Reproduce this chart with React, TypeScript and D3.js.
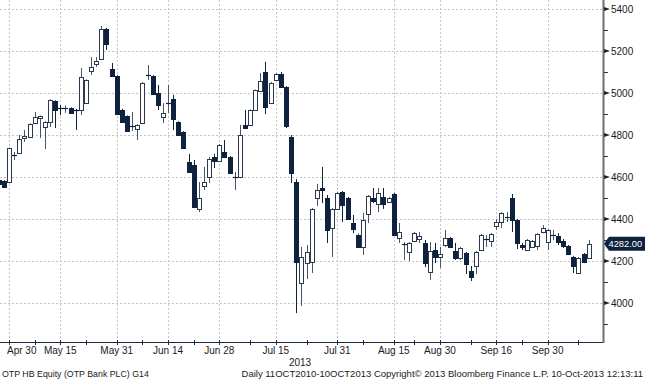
import React from 'react';
import * as d3 from 'd3';

// ---------- data ----------
const firstDay = '2013-04-26';
const lastDay = '2013-10-10';
const holidays = ['2013-05-01', '2013-05-20', '2013-08-19', '2013-08-20'];

const opens = [4585, 4580, 4576, 4705, 4714, 4786, 4790, 4857, 4881, 4838, 4862, 4962, 4928, 4925, 4929, 4920, 4919, 4952, 5105, 5138, 5162, 5305, 5114, 5081, 4919, 4890, 4843, 4829, 4857, 5086, 5081, 5000, 4886, 4950, 4971, 4862, 4814, 4671, 4657, 4448, 4557, 4600, 4695, 4676, 4719, 4695, 4600, 4600, 4848, 4848, 4919, 5010, 5100, 4952, 5062, 5090, 5029, 4790, 4576, 4095, 4190, 4195, 4500, 4548, 4500, 4357, 4448, 4529, 4500, 4381, 4324, 4267, 4424, 4500, 4471, 4505, 4481, 4519, 4310, 4281, 4243, 4295, 4305, 4286, 4148, 4252, 4219, 4276, 4310, 4248, 4214, 4238, 4152, 4176, 4252, 4305, 4295, 4367, 4386, 4410, 4500, 4395, 4276, 4252, 4267, 4271, 4338, 4290, 4324, 4319, 4295, 4271, 4219, 4143, 4233, 4214];
const highs = [4590, 4585, 4740, 4719, 4800, 4824, 4855, 4910, 4893, 4865, 4970, 4965, 4943, 4940, 4932, 4924, 5119, 5065, 5171, 5171, 5319, 5310, 5143, 5085, 4925, 4893, 4910, 4852, 5052, 5133, 5085, 5038, 4952, 5038, 4990, 4865, 4818, 4710, 4681, 4576, 4648, 4695, 4710, 4757, 4776, 4700, 4624, 4848, 4919, 4922, 5017, 5095, 5148, 5052, 5095, 5100, 5033, 4800, 4590, 4267, 4276, 4452, 4567, 4648, 4514, 4452, 4530, 4533, 4505, 4419, 4330, 4429, 4514, 4548, 4548, 4548, 4505, 4524, 4381, 4290, 4290, 4338, 4338, 4300, 4290, 4286, 4267, 4348, 4314, 4286, 4267, 4243, 4176, 4248, 4329, 4324, 4333, 4400, 4433, 4433, 4519, 4400, 4286, 4305, 4300, 4333, 4371, 4352, 4348, 4333, 4305, 4276, 4224, 4219, 4238, 4300];
const lows = [4560, 4550, 4570, 4681, 4710, 4767, 4785, 4852, 4786, 4733, 4838, 4833, 4895, 4905, 4902, 4824, 4895, 4948, 5086, 5124, 5160, 5205, 5078, 4895, 4857, 4815, 4819, 4776, 4852, 5062, 4990, 4919, 4857, 4905, 4824, 4795, 4733, 4620, 4452, 4433, 4538, 4571, 4643, 4672, 4690, 4615, 4538, 4595, 4830, 4845, 4915, 5005, 4900, 4948, 5057, 5024, 4833, 4571, 3952, 3986, 4114, 4143, 4462, 4476, 4286, 4219, 4443, 4386, 4395, 4333, 4262, 4229, 4381, 4476, 4433, 4448, 4476, 4320, 4286, 4205, 4200, 4290, 4286, 4171, 4110, 4190, 4167, 4267, 4262, 4205, 4205, 4138, 4105, 4138, 4248, 4267, 4267, 4348, 4357, 4386, 4338, 4257, 4252, 4248, 4262, 4252, 4333, 4252, 4300, 4276, 4262, 4228, 4143, 4138, 4190, 4210];
const closes = [4565, 4552, 4738, 4705, 4781, 4795, 4852, 4886, 4890, 4862, 4967, 4919, 4925, 4928, 4905, 4918, 5076, 5062, 5124, 5152, 5305, 5233, 5081, 4900, 4862, 4819, 4843, 4848, 5048, 5086, 4995, 4943, 4905, 4952, 4876, 4800, 4738, 4624, 4457, 4500, 4576, 4686, 4676, 4752, 4695, 4619, 4600, 4800, 4833, 4919, 5014, 5057, 4933, 5048, 5090, 5029, 4843, 4619, 4195, 4219, 4243, 4448, 4538, 4538, 4348, 4448, 4524, 4467, 4400, 4352, 4267, 4395, 4510, 4486, 4524, 4471, 4500, 4324, 4338, 4281, 4286, 4333, 4319, 4190, 4248, 4219, 4233, 4310, 4267, 4214, 4262, 4186, 4124, 4243, 4324, 4305, 4329, 4386, 4429, 4410, 4395, 4286, 4267, 4300, 4295, 4329, 4357, 4348, 4324, 4290, 4271, 4233, 4176, 4214, 4195, 4282];

const priceTicks = [4000, 4200, 4400, 4600, 4800, 5000, 5200, 5400];
const priceMinorTicks = [3900, 4100, 4300, 4500, 4700, 4900, 5100, 5300];
const majorDates = ['2013-04-30', '2013-05-15', '2013-05-31', '2013-06-14', '2013-06-28', '2013-07-15', '2013-07-31', '2013-08-15', '2013-08-30', '2013-09-16', '2013-09-30'];
const majorLabels = ['Apr 30', 'May 15', 'May 31', 'Jun 14', 'Jun 28', 'Jul 15', 'Jul 31', 'Aug 15', 'Aug 30', 'Sep 16', 'Sep 30'];
const minorDates = ['2013-05-08', '2013-05-23', '2013-06-07', '2013-06-21', '2013-07-08', '2013-07-23', '2013-08-07', '2013-08-23', '2013-09-09', '2013-09-23', '2013-10-08'];
const lastPrice = 4282.0;
const yearLabel = '2013';
const footerLeft = 'OTP HB Equity (OTP Bank PLC) G14';
const footerRight = 'Daily 11OCT2010-10OCT2013  Copyright\u00A9 2013 Bloomberg Finance L.P.   10-Oct-2013 12:13:11';

// ---------- layout ----------
const W = 645;
const H = 380;
const plotRight = 603;
const plotBottom = 342;
const step = 5.13;
const firstX = 9 - 2 * step;
const DARK = '#0e2240';
const OUTLINE = '#2c3a50';
const GRID = '#c4c4c4';
const FONT = '"Liberation Sans", Arial, sans-serif';

const fmt = d3.timeFormat('%Y-%m-%d');
const days = d3.timeDay
  .range(new Date(2013, 3, 26), new Date(2013, 9, 11))
  .filter((d) => d.getDay() !== 0 && d.getDay() !== 6)
  .map(fmt)
  .filter((s) => !holidays.includes(s) && s >= firstDay && s <= lastDay);

const n = Math.min(days.length, opens.length);
const candles = d3.range(n).map((i) => ({
  date: days[i],
  o: opens[i],
  h: highs[i],
  l: lows[i],
  c: closes[i],
}));

export default function App() {
  const x = d3
    .scalePoint<string>()
    .domain(days.slice(0, n))
    .range([firstX, firstX + (n - 1) * step]);
  const y = d3.scaleLinear().domain([4000, 5400]).range([303, 9]);
  const bw = 4;

  return (
    <div style={{ position: 'absolute', left: 0, top: 0, width: W, height: H, background: '#fff' }}>
      <svg width={W} height={H} style={{ display: 'block' }} fontFamily={FONT}>
        <defs>
          <clipPath id="plotclip">
            <rect x={0} y={0} width={plotRight} height={plotBottom} />
          </clipPath>
        </defs>
        <rect x={0} y={0} width={W} height={H} fill="#fff" />
        {/* horizontal grid */}
        {priceTicks.map((p) => (
          <line
            key={'hg' + p}
            x1={0}
            x2={plotRight}
            y1={Math.round(y(p)) + 0.5}
            y2={Math.round(y(p)) + 0.5}
            stroke={GRID}
            strokeDasharray="2,2"
          />
        ))}
        {/* vertical grid */}
        {majorDates.map((d) => (
          <line
            key={'vg' + d}
            x1={Math.round(x(d)!) + 0.5}
            x2={Math.round(x(d)!) + 0.5}
            y1={0}
            y2={plotBottom}
            stroke={GRID}
            strokeDasharray="2,2"
          />
        ))}
        {/* candles */}
        <g clipPath="url(#plotclip)">
          {candles.map((c) => {
            const cx = Math.round(x(c.date)!) + 0.5;
            const up = c.c >= c.o;
            const top = y(Math.max(c.o, c.c));
            const bot = y(Math.min(c.o, c.c));
            const flat = bot - top < 1.5;
            return (
              <g key={c.date}>
                <line x1={cx} x2={cx} y1={y(c.h)} y2={y(c.l)} stroke={up ? '#4a5566' : DARK} strokeWidth={1} />
                {flat ? (
                  <line x1={cx - bw / 2 - 0.5} x2={cx + bw / 2 + 0.5} y1={Math.round(top) + 0.5} y2={Math.round(top) + 0.5} stroke={DARK} strokeWidth={1.2} />
                ) : (
                  <rect
                    x={cx - bw / 2}
                    y={Math.round(top) + 0.5}
                    width={bw}
                    height={Math.max(1, Math.round(bot) - Math.round(top))}
                    fill={up ? '#ffffff' : DARK}
                    stroke={up ? OUTLINE : DARK}
                    strokeWidth={1}
                  />
                )}
              </g>
            );
          })}
        </g>
        {/* bottom axis */}
        <line x1={0} x2={plotRight} y1={plotBottom + 0.5} y2={plotBottom + 0.5} stroke="#1d2a40" strokeWidth={1} />
        {majorDates.map((d) => (
          <line key={'mt' + d} x1={Math.round(x(d)!) + 0.5} x2={Math.round(x(d)!) + 0.5} y1={plotBottom - 2} y2={plotBottom + 3} stroke="#1d2a40" />
        ))}
        {minorDates.map((d) => (
          <line key={'nt' + d} x1={Math.round(x(d)!) + 0.5} x2={Math.round(x(d)!) + 0.5} y1={plotBottom - 2} y2={plotBottom + 3} stroke="#1d2a40" />
        ))}
        {majorDates.map((d, i) => {
          const px = x(d)!;
          const approxW = majorLabels[i].length * 4.9;
          const clamp = px - approxW / 2 < 7;
          return (
            <text
              key={'ml' + d}
              x={clamp ? 7 : px}
              y={354}
              textAnchor={clamp ? 'start' : 'middle'}
              fontSize={10}
              fill="#1a1a1a"
            >
              {majorLabels[i]}
            </text>
          );
        })}
        <text x={300} y={366} textAnchor="middle" fontSize={10} fill="#1a1a1a">
          {yearLabel}
        </text>
        {/* right axis */}
        <line x1={plotRight + 0.5} x2={plotRight + 0.5} y1={0} y2={plotBottom + 1} stroke="#6e6e6e" strokeWidth={2} />
        {priceMinorTicks.map((p) => (
          <line key={'pm' + p} x1={plotRight + 1} x2={plotRight + 5} y1={Math.round(y(p)) + 0.5} y2={Math.round(y(p)) + 0.5} stroke="#333" />
        ))}
        {priceTicks.map((p) => (
          <g key={'pt' + p}>
            <path d={`M${plotRight + 1},${y(p) - 2} L${plotRight + 7},${y(p)} L${plotRight + 1},${y(p) + 2} Z`} fill="#222" />
            <text x={611} y={y(p) + 3.5} fontSize={10} fill="#1a1a1a">
              {p}
            </text>
          </g>
        ))}
        {/* last price tag */}
        <path
          d={`M${plotRight + 1},${y(lastPrice)} L${plotRight + 6},${y(lastPrice) - 7} L${W},${y(lastPrice) - 7} L${W},${y(lastPrice) + 7} L${plotRight + 6},${y(lastPrice) + 7} Z`}
          fill={DARK}
        />
        <text x={608.5} y={y(lastPrice) + 3.3} fontSize={9.3} fill="#fff">
          {lastPrice.toFixed(2)}
        </text>
        {/* footer */}
        <text x={2} y={377} fontSize={8.8} fill="#1a1a1a">
          {footerLeft}
        </text>
        <text x={643} y={377} textAnchor="end" fontSize={9.5} fill="#1a1a1a">
          {footerRight}
        </text>
      </svg>
    </div>
  );
}
